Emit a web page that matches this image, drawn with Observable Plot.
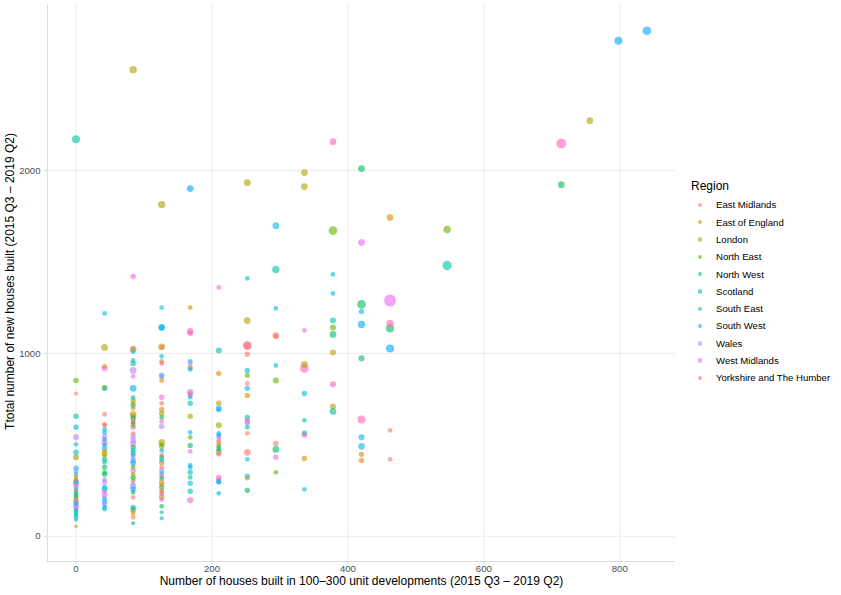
<!DOCTYPE html>
<html>
<head>
<meta charset="utf-8">
<script src="https://cdn.jsdelivr.net/npm/d3@7"></script>
<script src="https://cdn.jsdelivr.net/npm/@observablehq/plot@0.6"></script>
<style>
  body { margin: 0; background: #fff; font-family: "Liberation Sans", Arial, sans-serif; }
  #wrap { position: relative; width: 841px; height: 595px; }
  #legend { position: absolute; left: 691px; top: 178px; width: 150px; font-family: "Liberation Sans", Arial, sans-serif; }
  #legend .title { position: absolute; left: 0; top: 0; font-size: 12px; color: #000; line-height: 17px; white-space: nowrap; }
  #legend .item { position: absolute; left: 0; height: 17.3px; width: 150px; }
  #legend .dot { position: absolute; left: 6.8px; top: 6.45px; width: 4.4px; height: 4.4px; border-radius: 50%; opacity: 0.6; }
  #legend .lab { position: absolute; left: 25px; top: 0; line-height: 17.3px; font-size: 9.6px; color: #000; white-space: nowrap; }
</style>
</head>
<body>
<div id="wrap"><div id="chart"></div><div id="legend"></div></div>
<script>
const regionNames = ["East Midlands","East of England","London","North East","North West","Scotland","South East","South West","Wales","West Midlands","Yorkshire and The Humber"];
const regionCodes = ["EM","EE","LO","NE","NW","SC","SE","SW","WA","WM","YH"];
const regionColors = ["#F8766D","#DB8E00","#AEA200","#64B200","#00BD5C","#00C1A7","#00BADE","#00A6FF","#B385FF","#EF67EB","#FF63B6"];
const xTicks = [0, 200, 400, 600, 800];
const yTicks = [0, 1000, 2000];
const xTitle = "Number of houses built in 100\u2013300 unit developments (2015 Q3 \u2013 2019 Q2)";
const yTitle = "Ttotal number of new houses built (2015 Q3 \u2013 2019 Q2)";

// x value of each column of points
const colX = [0, 42, 84, 126, 168, 210, 252, 294, 336, 378, 420, 462, 546, 714, 756, 798, 840];
// [total new houses, region code, size]
const houses0 = [[2172,"SC",4.5],[852,"NE",2.5],[781,"EM",1.5],[656,"SC",2.5],[596,"SE",2.5],[541,"WA",3],[503,"SE",2],[459,"SE",2.5],[432,"LO",3],[372,"SE",2.5],[355,"WA",2],[340,"SE",2],[325,"EE",2],[310,"LO",2],[300,"SW",2.5],[290,"WA",3],[278,"WM",2],[268,"WA",2],[255,"SC",2],[245,"EM",2],[235,"SC",2],[225,"NW",2],[213,"NW",2],[200,"EE",2],[190,"WA",3],[178,"SW",2],[164,"WA",3],[152,"WM",2],[142,"SC",2],[130,"SE",2],[118,"SC",2],[104,"SC",2],[90,"SE",1.5],[55,"LO",1]];
const houses42 = [[1219,"SE",2],[1033,"LO",3.5],[929,"EE",2],[918,"WM",3],[814,"LO",2.5],[809,"SC",2.5],[667,"EM",2],[612,"EM",2],[607,"EM",2],[585,"SE",2],[568,"SE",2],[546,"WA",2.5],[530,"SE",2],[514,"WM",3],[500,"SW",2],[481,"SE",2.5],[466,"EE",2],[453,"LO",3],[440,"LO",2],[421,"SC",2.5],[405,"SC",2],[377,"NW",2.5],[350,"NW",2],[339,"NW",2.5],[310,"WA",2],[295,"WA",2.5],[268,"SE",2],[257,"SE",3],[240,"WM",2],[224,"WM",2.5],[205,"SW",2],[186,"SW",2.5],[170,"WA",2],[158,"SE",2],[148,"SE",2]];
const houses84 = [[2552,"LO",4],[1421,"WM",2.5],[1027,"EM",2],[1022,"LO",3.5],[1010,"SE",2],[962,"SE",2],[945,"SC",2.5],[907,"WA",3.5],[874,"WM",2],[809,"SW",3.5],[760,"SC",2],[743,"LO",2.5],[727,"LO",2],[716,"SC",2.5],[700,"EE",2],[667,"LO",3.5],[656,"LO",2.5],[645,"NW",2.5],[634,"EM",2],[623,"YH",2],[617,"NW",2],[605,"LO",2],[596,"WA",2.5],[563,"EM",2],[546,"WA",2.5],[525,"WA",2.5],[508,"WM",3],[486,"NW",2.5],[470,"SE",2],[455,"SC",2.5],[443,"SE",2],[430,"WA",2],[415,"SW",2.5],[399,"SW",2.5],[380,"NE",2],[361,"WM",2.5],[340,"LO",2],[322,"NW",2.5],[306,"LO",2],[290,"WA",2],[273,"WA",3],[257,"SW",2.5],[240,"NW",2],[213,"EM",2],[158,"SE",2.5],[150,"SC",2],[142,"LO",2.5],[126,"EE",2],[104,"EM",2],[71,"NW",1.5]];
const houses126 = [[1814,"LO",4],[1251,"SE",2],[1142,"SW",3.5],[1142,"SE",2.5],[1036,"LO",3.5],[1033,"EM",2],[984,"SE",2],[956,"EE",2],[945,"YH",2],[880,"SW",2.5],[870,"WA",2],[852,"EE",2],[760,"WM",2.5],[727,"EM",2],[694,"EE",2.5],[672,"LO",2.5],[650,"NW",2],[628,"YH",2],[601,"WA",2.5],[514,"LO",3.5],[500,"NE",2],[492,"LO",2.5],[470,"SC",2],[445,"EM",2],[432,"NW",2],[418,"SE",2],[404,"EE",2.5],[380,"EM",2],[361,"WA",2.5],[344,"SE",2],[330,"YH",2],[317,"NW",2],[295,"EE",2.5],[280,"EE",2],[268,"SC",2.5],[250,"EE",2],[240,"EE",2],[230,"WM",2],[213,"LO",2.5],[200,"WM",2],[164,"NW",2],[131,"SC",1.5],[98,"SE",1.5]];
const houses168 = [[1902,"SW",3.5],[1251,"EE",2],[1120,"YH",3.5],[1110,"YH",2.5],[956,"SE",2],[945,"WA",2],[923,"LO",2.5],[913,"SW",2],[787,"WA",3.5],[781,"YH",2],[770,"EM",2],[760,"SE",2],[727,"SC",2.5],[656,"LO",2.5],[568,"SE",2],[541,"NE",2],[497,"NW",2.5],[464,"WM",2],[388,"SE",2],[377,"SW",2],[350,"SC",2.5],[322,"SC",2],[290,"SE",2.5],[246,"SC",2.5],[197,"YH",3]];
const houses210 = [[1361,"WM",2],[1016,"SC",3],[891,"EE",2.5],[727,"EE",2.5],[699,"SW",3],[690,"SE",2],[607,"LO",3],[563,"SE",2],[552,"SW",2],[541,"WA",2],[525,"WM",2],[510,"EE",2],[497,"EE",2],[486,"SC",2],[475,"NW",2],[459,"LO",3],[448,"WM",2],[322,"YH",2.5],[311,"WM",2],[300,"SW",2.5],[295,"SE",2],[235,"SE",2]];
const houses252 = [[1934,"LO",3.5],[1410,"SE",2],[1180,"LO",3.5],[1044,"YH",5],[1040,"EM",4],[995,"EM",2.5],[907,"SE",2.5],[880,"NE",2.5],[836,"EM",2],[809,"SE",2.5],[770,"EE",2.5],[650,"SC",2.5],[634,"YH",2],[625,"WA",2.5],[615,"WA",2],[596,"SC",2],[563,"EM",2],[459,"EM",3.5],[421,"SE",2],[328,"SE",2.5],[317,"EE",2],[251,"NW",2.5]];
const houses294 = [[1699,"SE",3.5],[1459,"SC",4],[1246,"SE",2],[1098,"YH",3.5],[1093,"EE",2],[934,"SE",2],[852,"NE",3],[508,"EM",2.5],[475,"NW",3.5],[432,"WM",2.5],[350,"NE",2]];
const houses336 = [[1989,"LO",3.5],[1913,"LO",3.5],[1126,"WM",2],[940,"LO",3.5],[918,"YH",5],[781,"SE",2.5],[634,"SC",2],[563,"NW",2.5],[552,"WM",2.5],[426,"EE",2.5],[257,"SE",2]];
const houses378 = [[2158,"YH",3.5],[1672,"NE",5],[1432,"SE",2],[1328,"SE",2],[1180,"SC",3],[1142,"NE",3],[1104,"NW",3.5],[1005,"LO",3],[831,"YH",3],[710,"LO",3],[683,"SC",3.5]];
const houses420 = [[2011,"NW",3.5],[1607,"WM",3.5],[1268,"NW",5],[1230,"SE",2.5],[1158,"SW",4],[973,"NW",3],[639,"YH",4.5],[541,"SE",3],[492,"SE",3.5],[448,"EE",2.5],[415,"EE",2.5]];
const houses462 = [[1743,"EE",3.5],[1290,"WM",7.5],[1164,"YH",4],[1137,"NW",4.5],[1027,"SW",4.5],[579,"EM",2],[421,"EM",2]];
const houses546 = [[1678,"NE",4],[1481,"SC",5.5]];
const houses714 = [[2148,"YH",6],[1923,"NW",3.5]];
const houses756 = [[2273,"LO",3.5]];
const houses798 = [[2710,"SW",4.5]];
const houses840 = [[2765,"SW",5]];

const columns = [houses0, houses42, houses84, houses126, houses168, houses210, houses252, houses294, houses336, houses378, houses420, houses462, houses546, houses714, houses756, houses798, houses840];
const data = [];
columns.forEach((col, i) => col.forEach(([y, code, s]) => data.push({
  x: colX[i], y, region: regionNames[regionCodes.indexOf(code)], size: s
})));

const xDomain = [-42, 882];
const yDomain = [-138, 2903];

const chart = Plot.plot({
  width: 685, height: 595,
  marginLeft: 47, marginRight: 10, marginTop: 5, marginBottom: 34,
  style: { fontFamily: "Liberation Sans, Arial, sans-serif", fontSize: "9.6px", color: "#4d4d4d", background: "#fff" },
  x: { domain: xDomain, label: null },
  y: { domain: yDomain, label: null },
  color: { domain: regionNames, range: regionColors },
  r: { type: "linear", domain: [0, 1], range: [1.1, 1.75] },
  marks: [
    Plot.ruleX(xTicks, { stroke: "#ebebeb", strokeWidth: 1 }),
    Plot.ruleY(yTicks, { stroke: "#ebebeb", strokeWidth: 1 }),
    Plot.ruleX([xDomain[0]], { stroke: "#dcdcdc", strokeWidth: 1 }),
    Plot.ruleY([yDomain[0]], { stroke: "#dcdcdc", strokeWidth: 1 }),
    Plot.axisX({ ticks: xTicks, tickSize: 3, tickPadding: 1, tickFormat: d => String(d), label: null, stroke: "#dcdcdc", fill: "#4d4d4d" }),
    Plot.axisY({ ticks: yTicks, tickSize: 3, tickPadding: 4, tickFormat: d => String(d), label: null, stroke: "#dcdcdc", fill: "#4d4d4d" }),
    Plot.dot(data, { x: "x", y: "y", r: "size", fill: "region", fillOpacity: 0.6, stroke: null }),
    Plot.text([xTitle], { frameAnchor: "bottom", dy: 23, textAnchor: "middle", fill: "#000", fontSize: 12 }),
    Plot.text([yTitle], { frameAnchor: "left", dx: -37, dy: -2, rotate: -90, textAnchor: "middle", fill: "#000", fontSize: 12 })
  ]
});
document.getElementById("chart").appendChild(chart);

const legend = document.getElementById("legend");
const t = document.createElement("div");
t.className = "title"; t.textContent = "Region";
legend.appendChild(t);
regionNames.forEach((name, i) => {
  const item = document.createElement("div");
  item.className = "item";
  item.style.top = (18.35 + 17.3 * i) + "px";
  const dot = document.createElement("span");
  dot.className = "dot"; dot.style.background = regionColors[i];
  const label = document.createElement("span");
  label.className = "lab";
  label.textContent = name;
  item.appendChild(dot); item.appendChild(label);
  legend.appendChild(item);
});
</script>
</body>
</html>
